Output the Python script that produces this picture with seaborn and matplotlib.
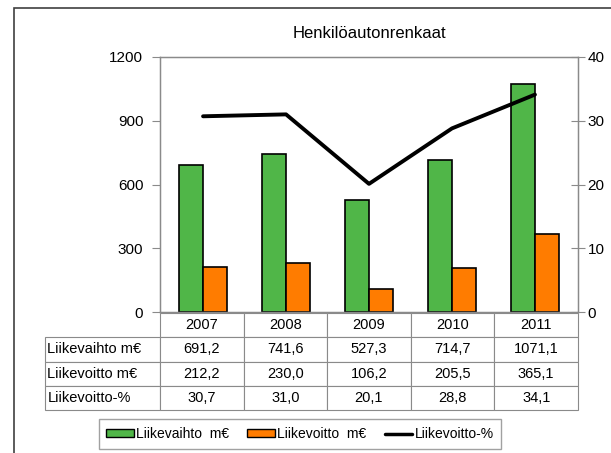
import pandas as pd
import seaborn as sns
import matplotlib.pyplot as plt
from matplotlib.patches import Rectangle

# Data
years = ['2007', '2008', '2009', '2010', '2011']
liikevaihto = [691.2, 741.6, 527.3, 714.7, 1071.1]
liikevoitto = [212.2, 230.0, 106.2, 205.5, 365.1]
voitto_pct = [30.7, 31.0, 20.1, 28.8, 34.1]
row_labels = ['Liikevaihto m€', 'Liikevoitto m€', 'Liikevoitto-%']

green = '#50B648'
orange = '#FF7C00'
gray = '#8A8A8A'

sns.set_style('white')
plt.rcParams['font.family'] = ['Liberation Sans', 'DejaVu Sans']
plt.rcParams['text.color'] = 'black'

df = pd.DataFrame({
    'year': years * 2,
    'value': liikevaihto + liikevoitto,
    'series': ['Liikevaihto  m€'] * 5 + ['Liikevoitto  m€'] * 5,
})

W, H = 611, 453
fig = plt.figure(figsize=(W / 100, H / 100), dpi=100)

def fbox(x0, y0, x1, y1):
    # pixel box -> figure fraction
    return [x0 / W, 1 - y1 / H, (x1 - x0) / W, (y1 - y0) / H]

ax = fig.add_axes(fbox(160, 57, 578, 312))
sns.barplot(data=df, x='year', y='value', hue='series',
            palette=[green, orange], edgecolor='black', linewidth=1.2,
            width=0.58, saturation=1, ax=ax, legend=False)
ax.set_ylim(0, 1200)
ax.set_yticks([0, 300, 600, 900, 1200])
ax.set_xlabel('')
ax.set_ylabel('')
ax.set_xticklabels([])
ax.tick_params(axis='x', length=0)
ax.tick_params(axis='y', direction='out', length=6, color=gray, labelsize=11,
               pad=6, labelcolor='black')
for s in ax.spines.values():
    s.set_color(gray)
    s.set_linewidth(1)

ax2 = ax.twinx()
sns.lineplot(x=years, y=voitto_pct, color='black', linewidth=2.8, sort=False, ax=ax2)
ax2.set_ylim(0, 40)
ax2.set_yticks([0, 10, 20, 30, 40])
ax2.tick_params(axis='y', direction='inout', length=10, color=gray, labelsize=11,
                pad=2, labelcolor='black')
for s in ax2.spines.values():
    s.set_color(gray)

ax.set_title('Henkilöautonrenkaat', fontsize=12, pad=14, color='black')

# Data table
tax = fig.add_axes(fbox(45, 313, 578, 410))
tax.axis('off')
cells = [[''] + years]
for lab, vals in zip(row_labels, [liikevaihto, liikevoitto, voitto_pct]):
    cells.append([lab] + [f'{v:.1f}'.replace('.', ',') for v in vals])
first = 115 / 533
rest = (1 - first) / 5
tbl = tax.table(cellText=cells, colWidths=[first] + [rest] * 5,
                bbox=[0, 0, 1, 1], cellLoc='center')
tbl.auto_set_font_size(False)
tbl.set_fontsize(10.5)
for (r, c), cell in tbl.get_celld().items():
    cell.set_edgecolor(gray)
    cell.set_linewidth(0.8)
    cell.get_text().set_color('black')
    if c == 0:
        cell.get_text().set_ha('left')
        cell.PAD = 0.02
    if r == 0 and c == 0:
        cell.visible_edges = ''

# Legend
handles = [Rectangle((0, 0), 1, 1, fc=green, ec='black', lw=1),
           Rectangle((0, 0), 1, 1, fc=orange, ec='black', lw=1),
           plt.Line2D([0], [0], color='black', lw=2.5)]
leg = fig.legend(handles, ['Liikevaihto  m€', 'Liikevoitto  m€', 'Liikevoitto-%'],
                 ncol=3, loc='center', bbox_to_anchor=(300 / W, 1 - 434 / H),
                 fontsize=10, fancybox=False, handlelength=2.0, handleheight=0.5,
                 handletextpad=0.15, columnspacing=1.3, borderpad=0.55,
                 borderaxespad=0)
leg.get_frame().set_edgecolor(gray)
leg.get_frame().set_linewidth(1)

# Outer chart frame
fig.patches.append(Rectangle((14 / W, -0.1), 1.2, 1.1 - 8 / H,
                             transform=fig.transFigure, fill=False,
                             ec='#404040', lw=1.2))

fig.savefig('out.png', dpi=100)
